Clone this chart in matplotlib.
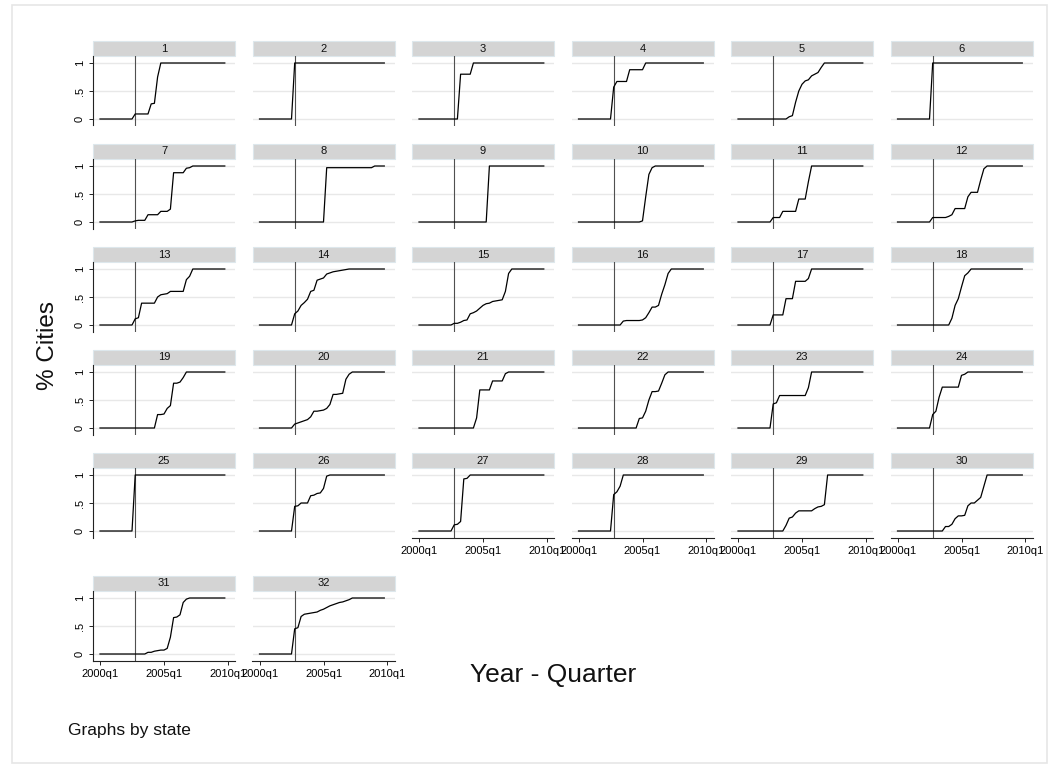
import matplotlib
matplotlib.use("Agg")
import matplotlib.pyplot as plt
from matplotlib.patches import Rectangle
import numpy as np

plt.rcParams['font.family'] = ['Liberation Sans', 'DejaVu Sans']

# quarterly index: 0 = 2000q1 ... 39 = 2009q4
quarters = np.arange(40)
xline_q = 11          # 2002q4
xtick_pos = [0, 20, 40]
xtick_labels = ["2000q1", "2005q1", "2010q1"]
ytick_pos = [0, 0.5, 1]
ytick_labels = ["0", ".5", "1"]

# share of cities per state, one list per state (40 quarters each)
s1 = [0]*11 + [0.09]*5 + [0.27, 0.28, 0.75] + [1]*21
s2 = [0]*11 + [1]*29
s3 = [0]*13 + [0.8]*4 + [1]*23
s4 = [0]*11 + [0.57] + [0.67]*4 + [0.88]*5 + [1]*19
s5 = [0]*16 + [0.04, 0.06, 0.3, 0.5, 0.62, 0.68, 0.7, 0.77, 0.8, 0.83, 0.92] + [1]*13
s6 = [0]*11 + [1]*29
s7 = [0]*11 + [0.02] + [0.03]*3 + [0.13]*4 + [0.19]*3 + [0.23] + [0.88]*4 + [0.96, 0.97] + [1]*11
s8 = [0]*21 + [0.97]*15 + [1]*4
s9 = [0]*22 + [1]*18
s10 = [0]*20 + [0.02, 0.45, 0.85, 0.97] + [1]*16
s11 = [0]*11 + [0.08]*3 + [0.19]*5 + [0.41]*3 + [0.72] + [1]*17
s12 = [0]*11 + [0.08]*5 + [0.1, 0.13] + [0.24]*4 + [0.45] + [0.53]*3 + [0.75, 0.95] + [1]*12
s13 = [0]*11 + [0.11, 0.13] + [0.39]*5 + [0.5, 0.54, 0.55, 0.56] + [0.6]*5 + [0.81, 0.87] + [1]*11
s14 = [0]*11 + [0.2, 0.25, 0.35, 0.4, 0.46, 0.6, 0.62, 0.8, 0.82, 0.84, 0.91, 0.93,
                0.95, 0.96, 0.97, 0.98, 0.99] + [1]*12
s15 = [0]*11 + [0.03, 0.03, 0.05, 0.08, 0.09, 0.2, 0.22, 0.25, 0.3, 0.35, 0.38, 0.39,
                0.42, 0.43, 0.44, 0.45, 0.6, 0.92] + [1]*11
s16 = [0]*14 + [0.07, 0.08, 0.08, 0.08, 0.08, 0.08, 0.09, 0.13, 0.22, 0.32, 0.32, 0.35,
                0.55, 0.72, 0.92] + [1]*11
s17 = [0]*11 + [0.18]*4 + [0.47]*3 + [0.78]*4 + [0.83] + [1]*17
s18 = [0]*17 + [0.12, 0.35, 0.47, 0.68, 0.88, 0.93] + [1]*17
s19 = [0]*18 + [0.24, 0.24, 0.25, 0.35, 0.4, 0.8, 0.8, 0.82, 0.9] + [1]*13
s20 = [0]*11 + [0.07, 0.09, 0.11, 0.13, 0.15, 0.2, 0.3, 0.3, 0.31, 0.32, 0.35, 0.42,
                0.6, 0.6, 0.61, 0.62, 0.87, 0.96] + [1]*11
s21 = [0]*18 + [0.18] + [0.68]*4 + [0.84]*4 + [0.97] + [1]*12
s22 = [0]*19 + [0.17, 0.18, 0.3, 0.5, 0.65, 0.65, 0.66, 0.8, 0.95] + [1]*12
s23 = [0]*11 + [0.43, 0.45] + [0.58]*9 + [0.72] + [1]*17
s24 = [0]*11 + [0.24, 0.3, 0.55] + [0.73]*6 + [0.94, 0.96] + [1]*18
s25 = [0]*11 + [1]*29
s26 = [0]*11 + [0.44, 0.45, 0.5, 0.5, 0.5, 0.63, 0.64, 0.67, 0.68, 0.76, 0.98] + [1]*18
s27 = [0]*11 + [0.11, 0.12, 0.17, 0.93, 0.94] + [1]*24
s28 = [0]*11 + [0.65, 0.7, 0.8] + [1]*26
s29 = [0]*15 + [0.1, 0.23, 0.25, 0.32, 0.36, 0.36, 0.36, 0.36, 0.36, 0.4, 0.43, 0.44,
                0.47] + [1]*12
s30 = [0]*15 + [0.08, 0.08, 0.12, 0.22, 0.27, 0.27, 0.28, 0.45, 0.5, 0.5, 0.55, 0.6,
                0.8] + [1]*12
s31 = [0]*15 + [0.03, 0.03, 0.05, 0.06, 0.07, 0.07, 0.1, 0.3, 0.65, 0.66, 0.7, 0.92,
                0.98] + [1]*12
s32 = [0]*11 + [0.45, 0.47, 0.67, 0.71, 0.72, 0.73, 0.74, 0.75, 0.78, 0.8, 0.83, 0.86,
                0.88, 0.9, 0.92, 0.93, 0.95, 0.97] + [1]*11

states = [str(i) for i in range(1, 33)]
series = [s1, s2, s3, s4, s5, s6, s7, s8, s9, s10, s11, s12, s13, s14, s15, s16,
          s17, s18, s19, s20, s21, s22, s23, s24, s25, s26, s27, s28, s29, s30, s31, s32]

W, H = 1055, 770
fig = plt.figure(figsize=(W / 100, H / 100), dpi=100)

# light outer frame
fig.patches.append(Rectangle((12 / W, 1 - 763 / H), (1047 - 12) / W, (763 - 4.5) / H,
                             transform=fig.transFigure, fill=False,
                             edgecolor='#e6e6e6', lw=1.2))

ncol = 6
col_left = [93 + 159.5 * c for c in range(ncol)]
row_top = [56 + 103 * r for r in range(5)] + [56 + 103 * 4 + 123]
ax_w, ax_h, strip_h = 142, 69.5, 15
x_axis_panels = set(range(26, 32))
small = 8

for i, (name, vals) in enumerate(zip(states, series)):
    r, c = divmod(i, ncol)
    left = col_left[c] / W
    bottom = 1 - (row_top[r] + ax_h) / H
    ax = fig.add_axes([left, bottom, ax_w / W, ax_h / H])

    ax.plot(quarters, vals, color='black', lw=0.9, zorder=3)
    ax.axvline(xline_q, color='#505050', lw=0.8, zorder=2)

    ax.set_xlim(-2.19, 42.19)
    ax.set_ylim(-0.116, 1.125)
    ax.set_yticks(ytick_pos)
    ax.set_xticks(xtick_pos)
    ax.yaxis.grid(True, color='#e8e8e8', lw=1.0)
    ax.xaxis.grid(False)
    ax.set_axisbelow(True)

    for s in ['top', 'right']:
        ax.spines[s].set_visible(False)

    if c == 0:
        ax.spines['left'].set_color('#222222')
        ax.spines['left'].set_linewidth(0.8)
        ax.set_yticklabels(ytick_labels, rotation=90, va='center', fontsize=small)
        ax.tick_params(axis='y', length=3, width=0.7, pad=3, color='#222222')
    else:
        ax.spines['left'].set_visible(False)
        ax.tick_params(axis='y', left=False, labelleft=False)

    if i in x_axis_panels:
        ax.spines['bottom'].set_color('#222222')
        ax.spines['bottom'].set_linewidth(0.8)
        ax.set_xticklabels(xtick_labels, fontsize=small)
        ax.tick_params(axis='x', length=3, width=0.7, pad=3, color='#222222')
    else:
        ax.spines['bottom'].set_visible(False)
        ax.tick_params(axis='x', bottom=False, labelbottom=False)

    # strip header with the state number
    sh = strip_h / ax_h
    ax.add_patch(Rectangle((0, 1), 1, sh, transform=ax.transAxes, clip_on=False,
                           facecolor='#d4d4d4', edgecolor='#dde7ec', lw=0.8))
    ax.text(0.5, 1 + sh / 2, name, transform=ax.transAxes, ha='center', va='center',
            fontsize=small, color='#111111')

fig.text(48 / W, 1 - 345 / H, "% Cities", rotation=90, ha='center', va='center',
         fontsize=17.5, color='#111111')
fig.text(553 / W, 1 - 675 / H, "Year - Quarter", ha='center', va='center',
         fontsize=19, color='#111111')
fig.text(68 / W, 1 - 730 / H, "Graphs by state", ha='left', va='center',
         fontsize=12.5, color='#111111')

fig.savefig("out.png", dpi=100, facecolor='white')
